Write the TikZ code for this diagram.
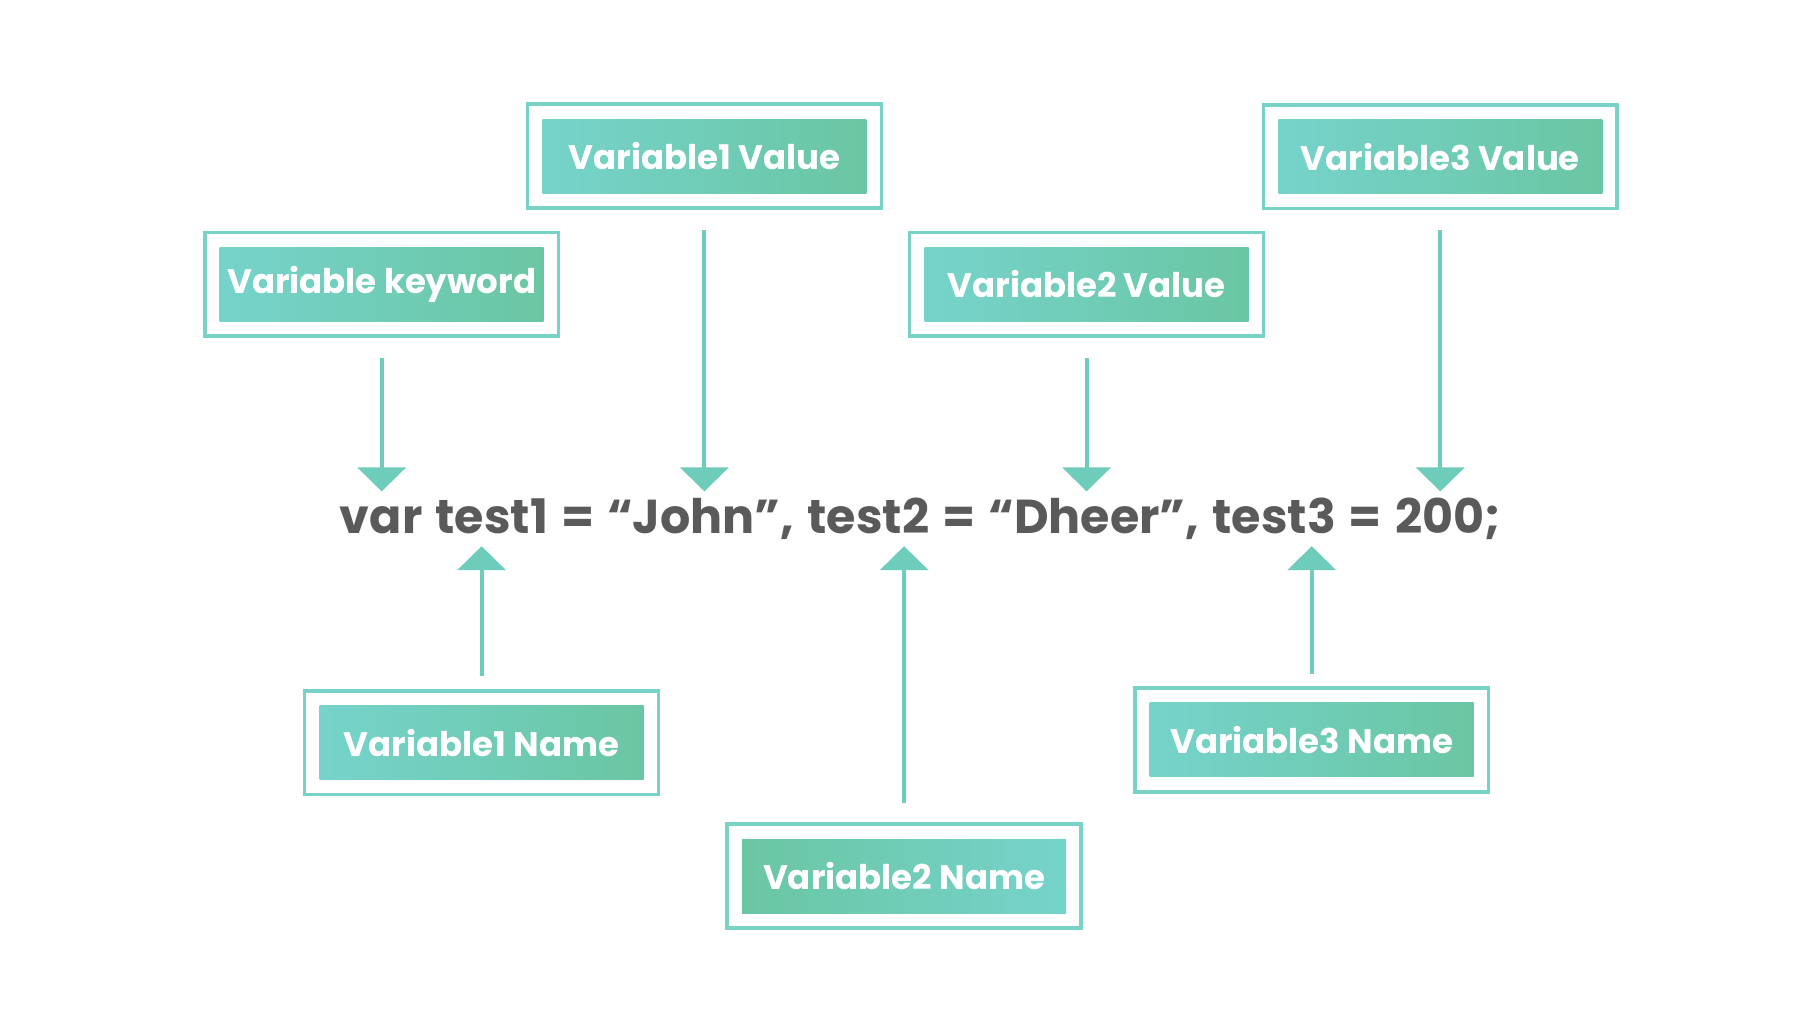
\documentclass[tikz,border=0pt]{standalone}
\usepackage{fontspec}
\setmainfont{Poppins}
\usepackage{tikz}
\usetikzlibrary{arrows.meta}

\definecolor{tealA}{HTML}{76D3CB}
\definecolor{greenA}{HTML}{6AC6A2}
\definecolor{frameC}{HTML}{78D3C6}
\definecolor{arrowC}{HTML}{6ECDBA}
\definecolor{codeC}{HTML}{5A5A5A}

\begin{document}
\begin{tikzpicture}[x=0.5pt, y=-0.5pt,
  lbl/.style={inner sep=0, minimum width=162pt, minimum height=37pt,
    left color=tealA, right color=greenA, text=white,
    font=\fontsize{17}{20}\selectfont\bfseries},
  lblrev/.style={lbl, left color=greenA, right color=tealA},
  frame/.style={draw=frameC, line width=1.75pt},
  arr/.style={draw=arrowC, line width=2pt,
    -{Triangle[width=24pt, length=12pt]}}]
\useasboundingbox (0,0) rectangle (1800,1013);
%\draw[help lines] (0,0) grid[step=100] (1800,1013);

% code line
\node (code) [anchor=base, inner sep=0, text height=21pt, text depth=6pt,
  text=codeC, font=\fontsize{23.8}{28}\selectfont\bfseries]
  at (920.4, 533.8) {\spaceskip=\fontdimen2\font plus 0pt\relax
    \advance\spaceskip by 1.5pt
    var test1 = “John”, test2 = “Dheer”, test3 = 200;};

% labels above
\node (kw)  [lbl] at (381.7, 284.2) {Variable keyword};
\node (v1v) [lbl] at (704.4, 156.1) {Variable1 Value};
\node (v2v) [lbl] at (1086.6, 284.2) {Variable2 Value};
\node (v3v) [lbl] at (1440.3, 156.7) {Variable3 Value};

% labels below
\node (v1n) [lbl] at (481.6, 742.8) {Variable1 Name};
\node (v2n) [lblrev] at (904.1, 876.0) {Variable2 Name};
\node (v3n) [lbl] at (1311.7, 739.9) {Variable3 Name};

% frames
\foreach \n in {kw, v1v, v2v, v3v, v1n, v2n, v3n}
  \draw[frame] ([shift={(-14.5,-14.5)}]\n.north west) rectangle ([shift={(14.5,14.5)}]\n.south east);

% arrows
\foreach \n in {kw, v1v, v2v, v3v}
  \draw[arr, shorten <=18pt] (\n.south) -- (\n.south |- code.north);
\draw[arr, shorten <=14.5pt] (v1n.north) -- (v1n.north |- code.south);
\draw[arr, shorten <=18pt] (v2n.north) -- (v2n.north |- code.south);
\draw[arr, shorten <=14.5pt] (v3n.north) -- (v3n.north |- code.south);
\end{tikzpicture}
\end{document}
